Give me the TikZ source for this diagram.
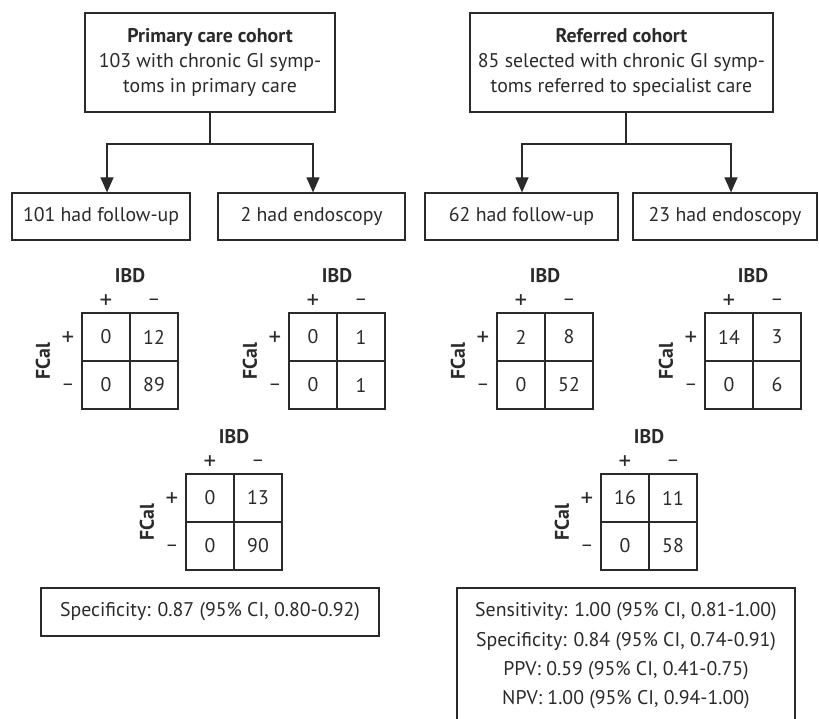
\documentclass[tikz,border=0pt]{standalone}
\usepackage{fontspec}
\setmainfont{PT Sans}
\usetikzlibrary{arrows.meta}
\definecolor{ink}{HTML}{2A2A2A}
\newcommand\myfs{\fontsize{19.8}{25}\selectfont}
\newcommand\pmfs{\fontsize{25}{25}\selectfont}
\newcommand\ctab[7]{%
  \node[cell] (#1a) at (#2+24,#3+24) {#4};
  \node[cell] (#1b) at (#2+72,#3+24) {#5};
  \node[cell] (#1c) at (#2+24,#3+72) {#6};
  \node[cell] (#1d) at (#2+72,#3+72) {#7};
  \node[lab,font=\myfs\bfseries] (#1ibd) at (#2+48,#3-37) {IBD};
  \node[lab,font=\pmfs] (#1cp) at (#2+24,#3-11) {+};
  \node[lab] (#1cm) at (#2+72,#3-11) {\textendash};
  \node[lab,font=\pmfs] (#1rp) at (#2-14,#3+26) {+};
  \node[lab] (#1rm) at (#2-14,#3+74) {\textendash};
  \node[lab,font=\myfs\bfseries,rotate=90] (#1fc) at (#2-39,#3+48) {FCal};
}
\begin{document}
\begin{tikzpicture}[x=1pt,y=-1pt,
  every node/.style={text=ink,font=\myfs},
  box/.style={draw=ink,line width=1.2pt,inner sep=0pt,align=center},
  cell/.style={draw=ink,line width=1.2pt,minimum size=48pt,inner sep=0pt},
  lab/.style={inner sep=0pt},
  arr/.style={draw=ink,line width=1.2pt,-{Triangle[width=13pt,length=15pt]}},
  ln/.style={draw=ink,line width=1.2pt}]
\useasboundingbox (0,0) rectangle (819,719);
\clip (0,0) rectangle (819,719);
% top boxes
\node[box,minimum width=250pt,minimum height=99pt] (p1) at (210,62.5)
  {\textbf{Primary care cohort}\\103 with chronic GI symp-\\toms in primary care};
\node[box,minimum width=303pt,minimum height=99pt] (p2) at (621.5,62.5)
  {\textbf{Referred cohort}\\85 selected with chronic GI symp-\\toms referred to specialist care};
% children
\node[box,minimum width=178pt,minimum height=47pt] (c1) at (101,216.5) {101 had follow-up};
\node[box,minimum width=187pt,minimum height=47pt] (c2) at (311.5,216.5) {2 had endoscopy};
\node[box,minimum width=193pt,minimum height=47pt] (c3) at (521.5,216.5) {62 had follow-up};
\node[box,minimum width=184pt,minimum height=47pt] (c4) at (725,216.5) {23 had endoscopy};
% connectors
\coordinate (j1) at (210,144);
\coordinate (j2) at (626,144);
\draw[ln] (p1.south) -- (j1);
\draw[arr] (j1) -| ([xshift=6pt]c1.north);
\draw[arr] (j1) -| ([xshift=1.5pt]c2.north);
\draw[ln] (p2.south -| j2) -- (j2);
\draw[arr] (j2) -| ([xshift=0.5pt]c3.north);
\draw[arr] (j2) -| ([xshift=6pt]c4.north);
% tables
\ctab{ta}{82}{313}{0}{12}{0}{89}
\ctab{tb}{289}{313}{0}{1}{0}{1}
\ctab{td}{497}{313}{2}{8}{0}{52}
\ctab{te}{705}{313}{14}{3}{0}{6}
\ctab{tc}{186}{474}{0}{13}{0}{90}
\ctab{tf}{601}{474}{16}{11}{0}{58}
% result boxes
\node[box,minimum width=338pt,minimum height=48pt] (r1) at (210,612) {Specificity: 0.87 (95\% CI, 0.80-0.92)};
\draw[ln] (457,740) rectangle (795,588);
\node[lab,align=center,font=\fontsize{19.8}{29.3}\selectfont] (r2) at (626,656)
  {Sensitivity: 1.00 (95\% CI, 0.81-1.00)\\Specificity: 0.84 (95\% CI, 0.74-0.91)\\PPV: 0.59 (95\% CI, 0.41-0.75)\\NPV: 1.00 (95\% CI, 0.94-1.00)};
\end{tikzpicture}
\end{document}
